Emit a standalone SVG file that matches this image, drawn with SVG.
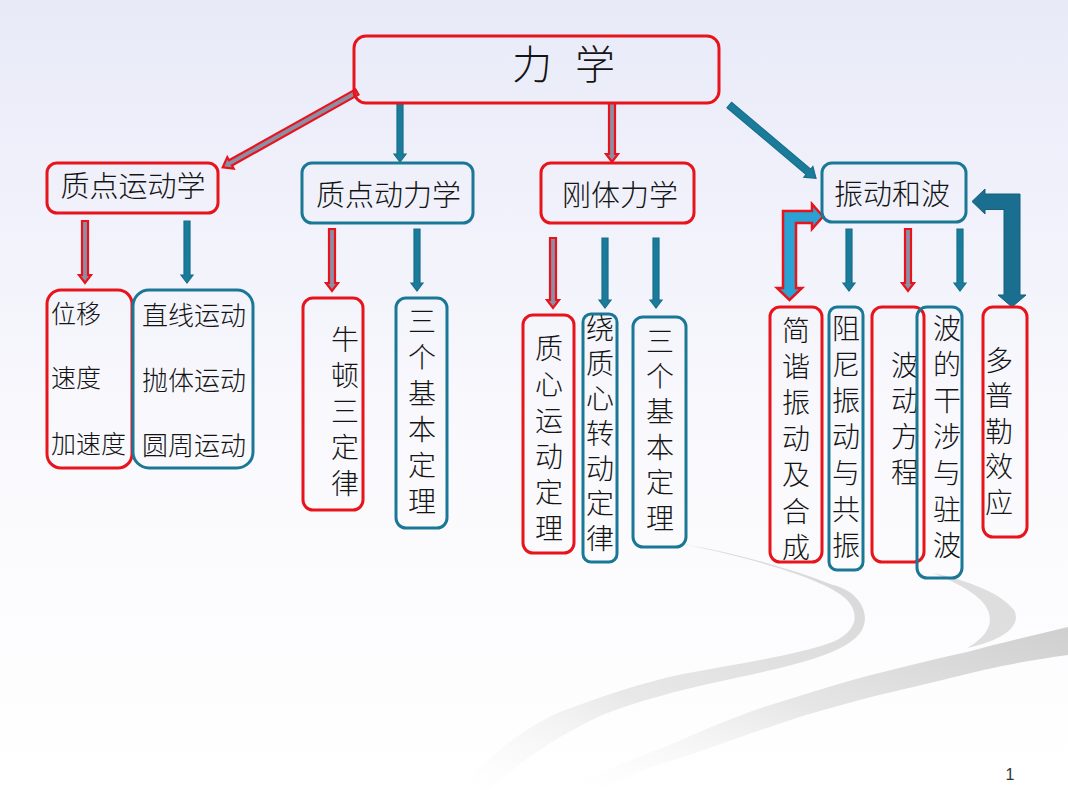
<svg xmlns="http://www.w3.org/2000/svg" width="1068" height="790" viewBox="0 0 1068 790">
<defs>
<linearGradient id="bg" x1="0" y1="0" x2="0" y2="1">
<stop offset="0" stop-color="#e8eaf8"/>
<stop offset="0.55" stop-color="#f9f9fd"/>
<stop offset="1" stop-color="#ffffff"/>
</linearGradient>
<linearGradient id="swA" x1="1" y1="0" x2="0" y2="1">
<stop offset="0" stop-color="#d6d6d6"/>
<stop offset="0.6" stop-color="#e8e8e8"/>
<stop offset="1" stop-color="#f8f8f8" stop-opacity="0"/>
</linearGradient>
<linearGradient id="swC" x1="1" y1="0" x2="0" y2="1">
<stop offset="0" stop-color="#cfcfcf"/>
<stop offset="0.5" stop-color="#e6e6e6"/>
<stop offset="1" stop-color="#fafafa" stop-opacity="0"/>
</linearGradient>
<style>
.rbox{fill:none;stroke:#e8141c;stroke-width:3}
.bbox{fill:none;stroke:#1a7896;stroke-width:3}
.t{font-family:"Noto Sans CJK SC","Noto Sans CJK JP",sans-serif;fill:#141414;font-weight:300}
.v{font-family:"Noto Sans CJK SC","Noto Sans CJK JP",sans-serif;fill:#141414;font-weight:300;font-size:28px;writing-mode:vertical-rl;text-orientation:upright}
.ra{fill:#8c8ea6;stroke:#e8141c;stroke-width:2.2;stroke-linejoin:miter}
.ba{fill:#1b7b9a;stroke:#166f8b;stroke-width:1.2}
</style>
</defs>

<rect x="0" y="0" width="1068" height="790" fill="url(#bg)"/>
<g id="background-swoosh">
<path d="M683,544 C760,560 825,580 845,598 C860,612 858,630 835,641 C800,655 740,663 683,674 C640,683 600,697 560,712 C520,730 490,755 460,790 L490,790 C520,760 560,735 600,716 C640,700 680,690 740,677 C800,664 850,652 862,630 C872,610 855,590 833,585 C790,568 735,553 683,544 Z" fill="url(#swA)"/>
<path d="M933,573 C965,580 1000,592 1014,610 C1022,625 1005,640 967,648 C990,635 995,620 985,605 C975,592 955,582 933,573 Z" fill="#dedede"/>
<path d="M1068,627 L1068,655 C1030,660 990,668 967,674 C930,683 900,690 867,698 C830,708 800,716 767,728 C730,740 700,752 667,762 C640,770 620,780 600,790 L560,790 C590,778 630,760 667,746 C700,732 730,718 767,706 C800,696 830,686 867,676 C900,668 930,660 967,652 C1000,643 1035,635 1068,627 Z" fill="url(#swC)"/>
</g>

<g id="connectors">
<polygon class="ra" points="358.5,94.6 232.0,165.5 233.7,168.6 222.7,167.3 227.3,157.2 229.0,160.3 355.5,89.4"/>
<polygon class="ba" points="727.0,107.7 806.1,174.5 803.9,177.2 816,178.3 812.9,166.5 810.7,169.1 731.6,102.3"/>
<polygon class="ba" points="397,103 403,103 403,154 406,154 400,162 394,154 397,154"/>
<polygon class="ra" points="609,103 615,103 615,154 618,154 612,162 606,154 609,154"/>

<polygon class="ra" points="82,221 88,221 88,275 91,275 85,283 79,275 82,275"/>
<polygon class="ba" points="184,221 190,221 190,275 193,275 187,283 181,275 184,275"/>

<polygon class="ra" points="329,229 335,229 335,283 338,283 332,291 326,283 329,283"/>
<polygon class="ba" points="414,229 420,229 420,283 423,283 417,291 411,283 414,283"/>

<polygon class="ra" points="550,238 556,238 556,300 559,300 553,308 547,300 550,300"/>
<polygon class="ba" points="602,238 608,238 608,300 611,300 605,308 599,300 602,300"/>
<polygon class="ba" points="653,238 659,238 659,300 662,300 656,308 650,300 653,300"/>

<polygon class="ba" points="846,229 852,229 852,283 855,283 849,291 843,283 846,283"/>
<polygon class="ra" points="905,229 911,229 911,283 914,283 908,291 902,283 905,283"/>
<polygon class="ba" points="957,229 963,229 963,283 966,283 960,291 954,283 957,283"/>

<path d="M783,211 L812,211 L812,204 L823,216.5 L812,229 L812,223 L796,223 L796,288 L802,288 L789.5,300 L777,288 L783,288 Z" fill="#2aa2d4" stroke="#e8141c" stroke-width="2.5" stroke-linejoin="miter"/>
<path d="M972,201.5 L985,189 L985,194 L1020,194 L1020,295 L1026,295 L1012,307 L998,295 L1004,295 L1004,209.5 L985,209.5 L985,214 Z" fill="#1a6f91" stroke="#155e7c" stroke-width="1"/>
</g>

<g id="node-lixue">
<rect class="rbox" x="354" y="36" width="365" height="67" rx="12"/>
<text class="t" font-size="40" y="79"><tspan x="512">力</tspan><tspan x="575">学</tspan></text>
</g>

<g id="node-zhidian-yundongxue">
<rect class="rbox" x="47" y="163" width="171" height="50" rx="10"/>
<text class="t" font-size="29" x="133" y="197" text-anchor="middle">质点运动学</text>
</g>
<g id="node-zhidian-donglixue">
<rect class="bbox" x="302" y="163" width="171" height="60" rx="10"/>
<text class="t" font-size="29" x="388.5" y="205.5" text-anchor="middle">质点动力学</text>
</g>
<g id="node-gangti">
<rect class="rbox" x="541" y="163" width="153" height="60" rx="10"/>
<text class="t" font-size="29" x="620" y="206" text-anchor="middle">刚体力学</text>
</g>
<g id="node-zhendong">
<rect class="bbox" x="822" y="163" width="144" height="59" rx="10"/>
<text class="t" font-size="29" x="892" y="204.5" text-anchor="middle">振动和波</text>
</g>

<g id="node-weiyi">
<rect class="rbox" x="47" y="290" width="85" height="178" rx="14"/>
<text class="t" font-size="25"><tspan x="51" y="322.5">位移</tspan><tspan x="51" y="386.5">速度</tspan><tspan x="51" y="452.5">加速度</tspan></text>
</g>
<g id="node-zhixian">
<rect class="bbox" x="133" y="290" width="120" height="178" rx="16"/>
<text class="t" font-size="26"><tspan x="142" y="325">直线运动</tspan><tspan x="142" y="390">抛体运动</tspan><tspan x="142" y="455">圆周运动</tspan></text>
</g>

<g id="node-niudun">
<rect class="rbox" x="303" y="298" width="60" height="212" rx="10"/>
<text class="v" x="345" y="325" letter-spacing="8">牛顿三定律</text>
</g>
<g id="node-sange1">
<rect class="bbox" x="396" y="298" width="51" height="230" rx="10"/>
<text class="v" x="422" y="307" letter-spacing="8">三个基本定理</text>
</g>

<g id="node-zhixin">
<rect class="rbox" x="523" y="315" width="51" height="238" rx="10"/>
<text class="v" x="549" y="334" letter-spacing="8">质心运动定理</text>
</g>
<g id="node-raozhixin">
<rect class="bbox" x="583" y="314" width="34" height="248" rx="8"/>
<text class="v" x="600" y="314" letter-spacing="7">绕质心转动定律</text>
</g>
<g id="node-sange2">
<rect class="bbox" x="633" y="317" width="53" height="230" rx="10"/>
<text class="v" x="660" y="327" letter-spacing="7.4">三个基本定理</text>
</g>

<g id="node-jianxie">
<rect class="rbox" x="770" y="307" width="52" height="255" rx="10"/>
<text class="v" x="796" y="316" letter-spacing="8.2">简谐振动及合成</text>
</g>
<g id="node-zuni">
<rect class="bbox" x="829" y="307" width="34" height="263" rx="8"/>
<text class="v" x="846" y="314" letter-spacing="8.2">阻尼振动与共振</text>
</g>
<g id="node-bodong">
<rect class="rbox" x="872" y="307" width="52" height="255" rx="10"/>
<text class="v" x="905" y="351" letter-spacing="7.7">波动方程</text>
</g>
<g id="node-ganshe">
<rect class="bbox" x="917" y="307" width="45" height="271" rx="10"/>
<text class="v" x="947" y="314" letter-spacing="8.2">波的干涉与驻波</text>
</g>
<g id="node-duopule">
<rect class="rbox" x="983" y="307" width="44" height="230" rx="10"/>
<text class="v" x="999" y="346" letter-spacing="7.5">多普勒效应</text>
</g>

<text x="1010" y="780" font-family="Liberation Sans, Arial, sans-serif" font-size="16" fill="#333" text-anchor="middle">1</text>
</svg>
